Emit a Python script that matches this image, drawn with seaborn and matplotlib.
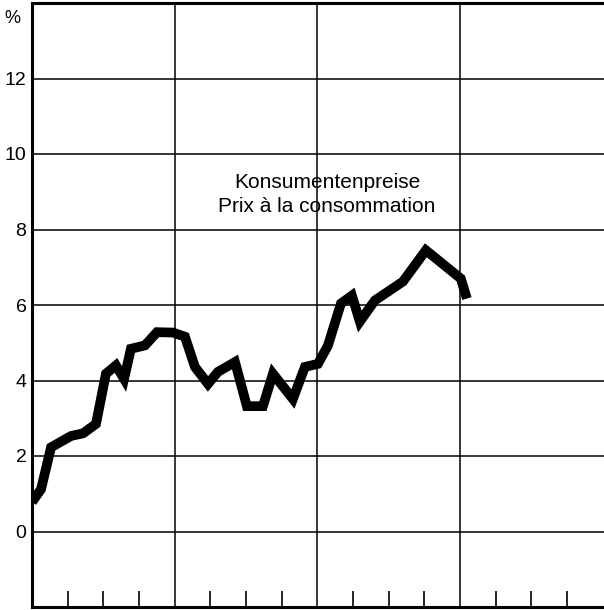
import numpy as np
import pandas as pd
import matplotlib
matplotlib.use('Agg')
import matplotlib.pyplot as plt
import seaborn as sns

# Konsumentenpreise, Veränderung in % (x in Monaten ab Beginn)
monate = [0.0, 0.76, 1.60, 3.28, 4.29, 5.38, 6.22, 7.06, 7.74, 8.32, 9.50,
          10.51, 11.85, 12.86, 13.70, 14.80, 15.64, 17.07, 18.07, 19.42,
          20.26, 21.94, 22.95, 24.04, 24.88, 25.98, 26.90, 27.57, 28.83,
          31.19, 33.12, 36.06, 36.57]
werte = [0.78, 1.12, 2.23, 2.53, 2.60, 2.85, 4.18, 4.40, 4.04, 4.84, 4.93,
         5.28, 5.27, 5.16, 4.36, 3.91, 4.23, 4.49, 3.32, 3.32,
         4.18, 3.51, 4.36, 4.44, 4.92, 6.04, 6.25, 5.56, 6.12,
         6.62, 7.45, 6.70, 6.17]

y_ticks = [0, 2, 4, 6, 8, 10, 12]
jahre = [12, 24, 36]
quartale = [3, 6, 9, 15, 18, 21, 27, 30, 33, 39, 42, 45]
titel = 'Konsumentenpreise\nPrix à la consommation'

df = pd.DataFrame({'monat': monate, 'wert': werte})

sns.set_style('white')
plt.rcParams['font.family'] = ['Liberation Sans', 'DejaVu Sans']
plt.rcParams['text.color'] = 'black'
plt.rcParams['ytick.color'] = 'black'

fig = plt.figure(figsize=(6.04, 6.10), dpi=100)
ax = fig.add_axes([32 / 604, 3 / 610, 572 / 604, 604 / 610])

# Gitter
for y in y_ticks:
    ax.axhline(y, color='black', lw=1.1, zorder=1)
for x in jahre:
    ax.axvline(x, color='black', lw=1.1, zorder=1)

sns.lineplot(data=df, x='monat', y='wert', sort=False, ax=ax,
             color='black', lw=7, solid_joinstyle='miter',
             solid_capstyle='butt', zorder=3)

ax.set_xlim(0, 48.1)
ax.set_ylim(-2, 14)
ax.set_xlabel('')
ax.set_ylabel('')

ax.set_yticks(y_ticks)
ax.set_yticklabels([str(v) for v in y_ticks], fontsize=14)
ax.tick_params(axis='y', length=0, pad=4, labelcolor='black')

ax.set_xticks(quartale)
ax.set_xticklabels([])
ax.tick_params(axis='x', direction='in', length=11.5, width=1.2,
               color='black', bottom=True)

ax.text(-0.034, 13.6, '%', transform=ax.get_yaxis_transform(),
        ha='center', va='center', fontsize=13, color='black')

ax.text(24.8, 8.93, titel, ha='center', va='center', fontsize=15,
        linespacing=1.36, zorder=4, color='black')

for s in ['left', 'top', 'bottom']:
    ax.spines[s].set_visible(True)
    ax.spines[s].set_color('black')
    ax.spines[s].set_linewidth(2.2)
ax.spines['right'].set_visible(False)

fig.savefig('out.png', dpi=100)
